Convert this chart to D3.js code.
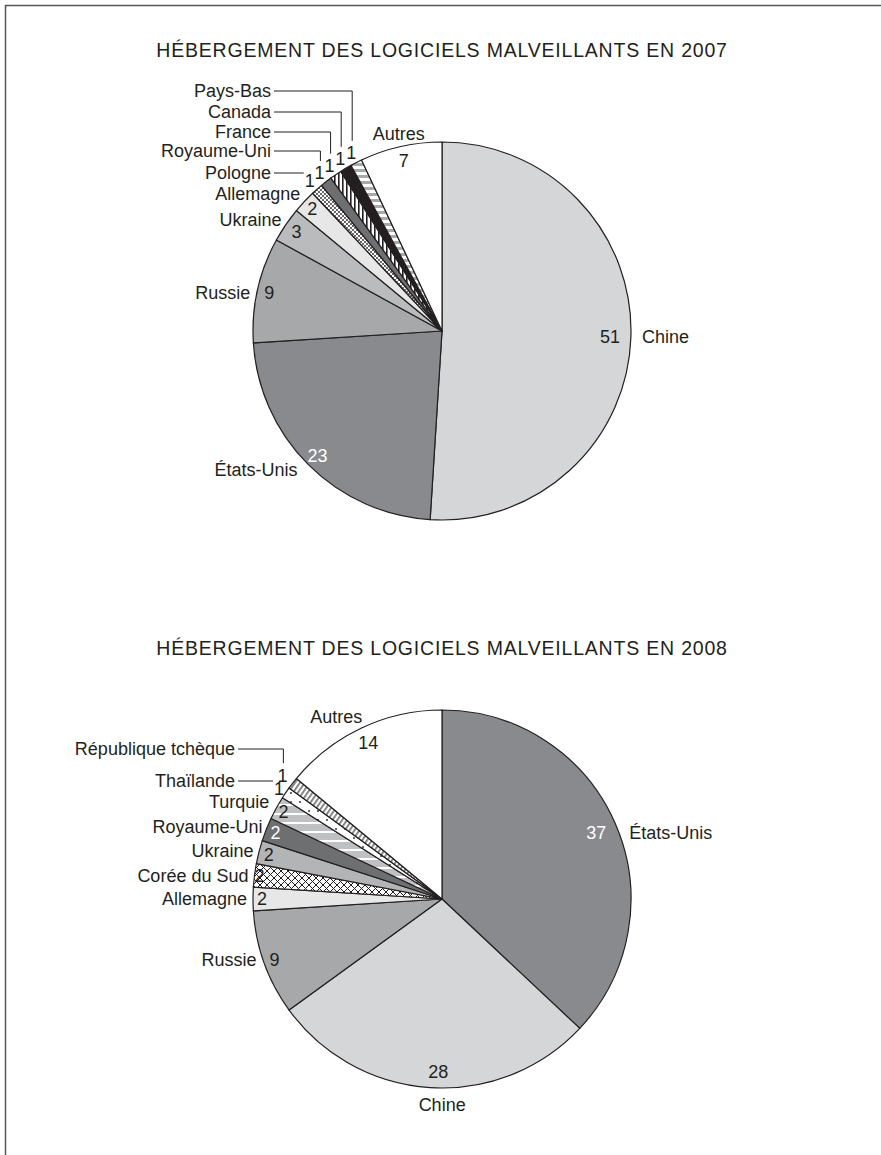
<!DOCTYPE html>
<html>
<head>
<meta charset="utf-8">
<script src="https://cdn.jsdelivr.net/npm/d3@7"></script>
<style>
  body { margin: 0; background: #fff; }
  svg text { font-family: "Liberation Sans", Arial, sans-serif; font-size: 18px; fill: #231f20; }
  svg text.title { font-size: 19.5px; letter-spacing: 0.8px; }
</style>
</head>
<body>
<svg id="chart" width="881" height="1155"></svg>
<script>
// data (percent)
const titles = ["HÉBERGEMENT DES LOGICIELS MALVEILLANTS EN 2007",
                "HÉBERGEMENT DES LOGICIELS MALVEILLANTS EN 2008"];
const cats2007 = ["Chine", "États-Unis", "Russie", "Ukraine", "Allemagne", "Pologne",
                  "Royaume-Uni", "France", "Canada", "Pays-Bas", "Autres"];
const vals2007 = [51, 23, 9, 3, 2, 1, 1, 1, 1, 1, 7];
const cats2008 = ["États-Unis", "Chine", "Russie", "Allemagne", "Corée du Sud", "Ukraine",
                  "Royaume-Uni", "Turquie", "Thaïlande", "République tchèque", "Autres"];
const vals2008 = [37, 28, 9, 2, 2, 2, 2, 2, 1, 1, 14];

const W = 881, H = 1155;
const radius = 189;

const svg = d3.select("#chart");
const defs = svg.append("defs");

// fill patterns
function pat(id, w, h, bg) {
  const p = defs.append("pattern").attr("id", id)
    .attr("patternUnits", "userSpaceOnUse").attr("width", w).attr("height", h);
  p.append("rect").attr("width", w).attr("height", h).attr("fill", bg);
  return p;
}
let p = pat("dots", 4, 4, "#fff");
p.append("circle").attr("cx", 1).attr("cy", 1).attr("r", 0.9).attr("fill", "#231f20");
p.append("circle").attr("cx", 3).attr("cy", 3).attr("r", 0.9).attr("fill", "#231f20");
p = pat("vlines", 4, 4, "#fff");
p.append("rect").attr("width", 1.6).attr("height", 4).attr("fill", "#231f20");
p = pat("hbands", 6, 6, "#fff");
p.append("rect").attr("width", 6).attr("height", 3).attr("fill", "#a8a9ab");
p = pat("cross", 7, 7, "#fff");
p.append("path").attr("d", "M0,0L7,7M7,0L0,7").attr("stroke", "#231f20").attr("stroke-width", 1);
p = pat("wlines", 8, 9, "#bfc0c2");
p.append("rect").attr("y", 4).attr("width", 8).attr("height", 2).attr("fill", "#fff");
p = pat("sparse", 9, 9, "#fff");
p.append("circle").attr("cx", 2).attr("cy", 2).attr("r", 0.9).attr("fill", "#231f20");
p = pat("diag", 4, 4, "#fff").attr("patternTransform", "rotate(35)");
p.append("rect").attr("width", 1.8).attr("height", 4).attr("fill", "#7a7b7d");

const fills2007 = {
  "Chine": "#d5d6d8", "États-Unis": "#898a8d", "Russie": "#a7a8aa", "Ukraine": "#babbbd",
  "Allemagne": "#e7e7e8", "Pologne": "url(#dots)", "Royaume-Uni": "#6e6f71",
  "France": "url(#vlines)", "Canada": "#231f20", "Pays-Bas": "url(#hbands)", "Autres": "#fff"
};
const fills2008 = {
  "États-Unis": "#898a8d", "Chine": "#d5d6d8", "Russie": "#a7a8aa", "Allemagne": "#e7e7e8",
  "Corée du Sud": "url(#cross)", "Ukraine": "#b3b4b6", "Royaume-Uni": "#6e6f71",
  "Turquie": "url(#wlines)", "Thaïlande": "url(#sparse)", "République tchèque": "url(#diag)",
  "Autres": "#fff"
};

// label placement: number at radius nr on the slice middle (nudged by ndx),
// name offset from the number, or a leader line for the thin slices
const lab2007 = {
  "Chine": { nr: 168, dx: 32, dy: 0, a: "start" },
  "États-Unis": { nr: 176, dx: -20, dy: 14, a: "end", white: true },
  "Russie": { nr: 177, dx: -19, dy: 0, a: "end" },
  "Ukraine": { nr: 176, dx: -15, dy: -12, a: "end" },
  "Allemagne": { nr: 178, dx: -12, dy: -15, a: "end" },
  "Pologne": { nr: 200, lead: -158, lx: -171 },
  "Royaume-Uni": { nr: 200, lead: -180, lx: -171 },
  "France": { nr: 200, lead: -199, lx: -171 },
  "Canada": { nr: 200, lead: -219, lx: -171 },
  "Pays-Bas": { nr: 200, lead: -240, lx: -171 },
  "Autres": { nr: 175, dx: -5, dy: -27, a: "middle" }
};
const lab2008 = {
  "États-Unis": { nr: 168, dx: 33, dy: 0, a: "start", white: true },
  "Chine": { nr: 173, ndx: 7, dx: 4, dy: 33, a: "middle" },
  "Russie": { nr: 178, dx: -18, dy: 0, a: "end" },
  "Allemagne": { nr: 180, dx: -15, dy: 0, a: "end" },
  "Corée du Sud": { nr: 184, dx: -11, dy: 0, a: "end" },
  "Ukraine": { nr: 179, dx: -15, dy: -4, a: "end" },
  "Royaume-Uni": { nr: 179, dx: -13, dy: -6, a: "end", white: true },
  "Turquie": { nr: 181, dx: -14, dy: -10, a: "end" },
  "Thaïlande": { nr: 197, lead: -118, lx: -207 },
  "République tchèque": { nr: 202, lead: -150, lx: -207 },
  "Autres": { nr: 173, dx: -32, dy: -26, a: "middle" }
};

function drawPie(cats, vals, fills, labs, title, cx, cy, ty) {
  const data = cats.map((c, i) => ({ name: c, value: vals[i] }));
  const pie = d3.pie().sort(null).value(d => d.value);
  const arc = d3.arc().innerRadius(0).outerRadius(radius);
  const arcs = pie(data);

  svg.append("text").attr("class", "title")
    .attr("x", cx).attr("y", ty).attr("text-anchor", "middle").text(title);

  const g = svg.append("g").attr("transform", `translate(${cx},${cy})`);
  g.selectAll("path.slice").data(arcs).join("path")
    .attr("class", "slice")
    .attr("d", arc)
    .attr("fill", d => fills[d.data.name])
    .attr("stroke", "#231f20")
    .attr("stroke-width", 1.2)
    .attr("stroke-linejoin", "round");

  const pos = (d, r) => {
    const a = (d.startAngle + d.endAngle) / 2;
    return [r * Math.sin(a), -r * Math.cos(a)];
  };

  arcs.forEach(d => {
    const L = labs[d.data.name];
    let [x, y] = pos(d, L.nr);
    x += L.ndx || 0;
    g.append("text").attr("x", x).attr("y", y).attr("dy", "0.35em")
      .attr("text-anchor", "middle")
      .style("fill", L.white ? "#fff" : "#231f20")
      .text(d.data.value);
    if (L.lead !== undefined) {
      g.append("text").attr("x", L.lx).attr("y", L.lead).attr("dy", "0.35em")
        .attr("text-anchor", "end").text(d.data.name);
      const pts = L.lead >= y - 12
        ? [[L.lx + 3, L.lead], [x - 6, L.lead]]
        : [[L.lx + 3, L.lead], [x + 1, L.lead], [x + 1, y - 12]];
      g.append("path").attr("d", d3.line()(pts))
        .attr("fill", "none").attr("stroke", "#231f20").attr("stroke-width", 1);
    } else {
      g.append("text").attr("x", x + L.dx).attr("y", y + L.dy).attr("dy", "0.35em")
        .attr("text-anchor", L.a).text(d.data.name);
    }
  });
}

// frame (top and left rule)
svg.append("path").attr("d", `M5.5,${H}V5.5H${W}`)
  .attr("fill", "none").attr("stroke", "#555").attr("stroke-width", 1.5);

drawPie(cats2007, vals2007, fills2007, lab2007, titles[0], 442, 331, 57);
drawPie(cats2008, vals2008, fills2008, lab2008, titles[1], 442, 899, 655);
</script>
</body>
</html>
